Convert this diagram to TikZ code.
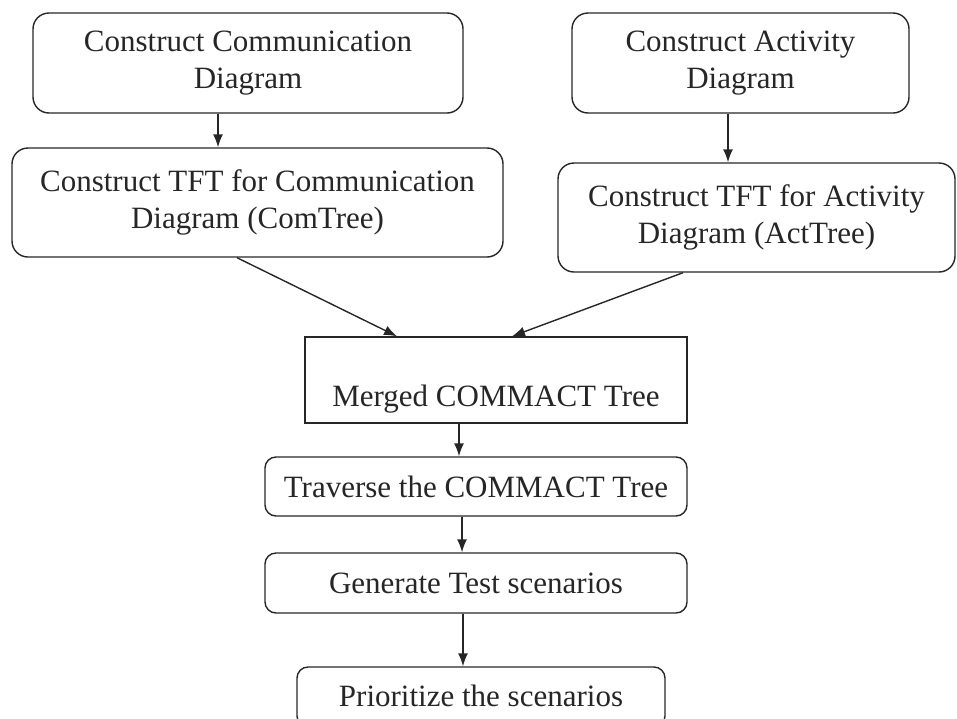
\documentclass[tikz,border=0pt]{standalone}
\usepackage{fontspec}
\setmainfont{Liberation Serif}
\usetikzlibrary{arrows.meta}
\definecolor{ink}{HTML}{262626}
\tikzset{
  box/.style={draw=ink, line width=1.4pt, align=center, text=ink,
    font=\fontsize{31}{37}\selectfont, inner sep=0pt},
  rbox/.style={box, rounded corners=16pt},
  arr/.style={draw=ink, line width=1.4pt, -{Latex[length=13pt,width=10pt]}}
}
\begin{document}
\begin{tikzpicture}[x=1pt,y=-1pt]
\useasboundingbox (0,0) rectangle (957,718);

% process steps
\node[rbox, minimum width=430pt, minimum height=100pt] (b1) at (248,63)
  {Construct Communication\\Diagram};
\node[rbox, minimum width=337pt, minimum height=100pt] (b2) at (740.5,63)
  {Construct Activity\\Diagram};
\node[rbox, minimum width=491pt, minimum height=109pt] (b3) at (257.5,202.5)
  {Construct TFT for Communication\\Diagram (ComTree)};
\node[rbox, minimum width=397pt, minimum height=109pt] (b4) at (756.5,217.5)
  {Construct TFT for Activity\\Diagram (ActTree)};
\node[box, minimum width=382pt, minimum height=86pt,
  text height=52pt, text depth=0pt] (b5) at (496,380)
  {Merged COMMACT Tree};
\node[rbox, rounded corners=11pt, minimum width=422pt, minimum height=59pt] (b6) at (476,486.5)
  {Traverse the COMMACT Tree};
\node[rbox, rounded corners=11pt, minimum width=422pt, minimum height=60pt] (b7) at (476,583)
  {Generate Test scenarios};
\node[rbox, rounded corners=11pt, minimum width=368pt, minimum height=60pt] (b8) at (481,697)
  {\raisebox{2pt}{Prioritize the scenarios}};

% connector positions
\coordinate (x12) at (218,0);
\coordinate (x24) at (728,0);
\coordinate (x3s) at (237,0);
\coordinate (x3e) at (397,0);
\coordinate (x4s) at (683,0);
\coordinate (x4e) at (512,0);
\coordinate (x56) at (459,0);
\coordinate (x67) at (462,0);
\coordinate (x78) at (463,0);

\draw[arr] (b1.south -| x12) -- (b3.north -| x12);
\draw[arr] (b2.south -| x24) -- (b4.north -| x24);
\draw[arr] (b3.south -| x3s) -- (b5.north -| x3e);
\draw[arr] (b4.south -| x4s) -- (b5.north -| x4e);
\draw[arr] (b5.south -| x56) -- (b6.north -| x56);
\draw[arr] (b6.south -| x67) -- (b7.north -| x67);
\draw[arr] (b7.south -| x78) -- (b8.north -| x78);
\end{tikzpicture}
\end{document}
